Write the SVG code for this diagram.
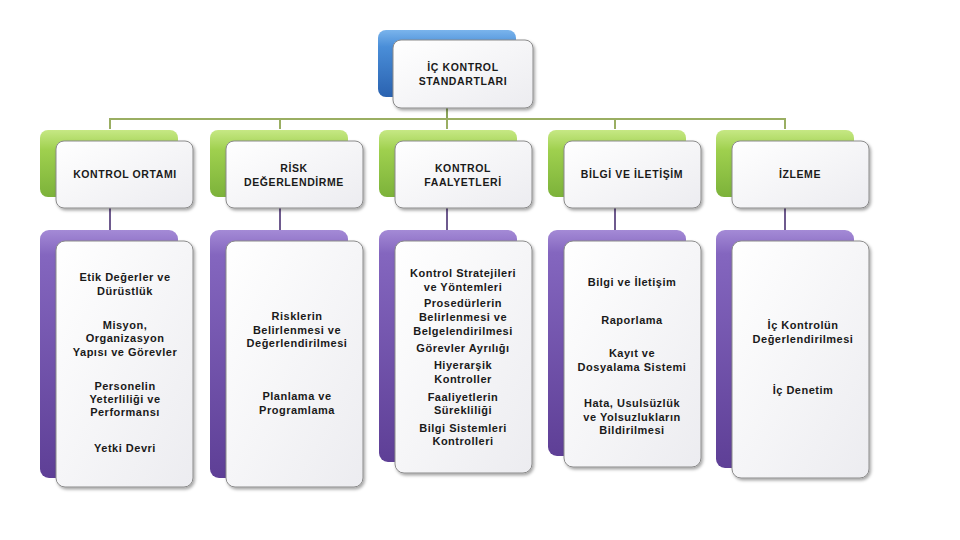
<svg xmlns="http://www.w3.org/2000/svg" width="960" height="540" viewBox="0 0 960 540">
<defs>
<linearGradient id="gGreen" x1="0" y1="0" x2="0" y2="1"><stop offset="0" stop-color="#c6e884"/><stop offset="0.3" stop-color="#9fd04e"/><stop offset="1" stop-color="#7cb23a"/></linearGradient>
<linearGradient id="gPurple" x1="0" y1="0" x2="0" y2="1"><stop offset="0" stop-color="#a48ad6"/><stop offset="0.1" stop-color="#8466bf"/><stop offset="1" stop-color="#5e3f96"/></linearGradient>
<linearGradient id="gBlue" x1="0" y1="0" x2="0" y2="1"><stop offset="0" stop-color="#7ab4ec"/><stop offset="0.25" stop-color="#4a8ed8"/><stop offset="1" stop-color="#2a62b0"/></linearGradient>
<linearGradient id="gWhite" x1="0" y1="0" x2="1" y2="1"><stop offset="0" stop-color="#ffffff"/><stop offset="1" stop-color="#ececf0"/></linearGradient>
<filter id="sh" x="-10%" y="-10%" width="130%" height="130%"><feDropShadow dx="1.5" dy="2" stdDeviation="1.8" flood-color="#000" flood-opacity="0.35"/></filter>
</defs>
<style>
.front{fill:url(#gWhite);stroke:#8a8a8a;stroke-width:1;filter:url(#sh)}
.green{fill:url(#gGreen)}
.purple{fill:url(#gPurple)}
.blue{fill:url(#gBlue)}
text{font-family:"Liberation Sans","DejaVu Sans",sans-serif;font-weight:bold;font-size:11px;letter-spacing:0.5px;fill:#1a1a1a;text-anchor:middle}
.h{font-size:10.5px;letter-spacing:0.6px}
.gl{stroke:#9aae62;stroke-width:2;fill:none}
.pl{stroke:#6e5a8e;stroke-width:2;fill:none}
.bl{stroke:#8aa35a;stroke-width:2;fill:none}
</style>
<rect width="960" height="540" fill="#ffffff"/>
<g id="connectors">
<path class="bl" d="M447 108 V119"/>
<path class="gl" d="M110 129 V119 H785 V129 M280 119 V129 M447 119 V129 M615 119 V129"/>
<path class="pl" d="M110 208 V230 M280 208 V230 M447 208 V230 M615 208 V230 M785 208 V230"/>
</g>
<g id="top">
<rect class="blue" x="378" y="30" width="138" height="67" rx="8"/>
<rect class="front" x="393" y="40" width="140" height="68" rx="8"/>
<text class="h" x="463" y="71">İÇ KONTROL</text>
<text class="h" x="463" y="85">STANDARTLARI</text>
</g>
<g id="n1">
<rect class="green" x="40" y="130" width="138" height="67" rx="8"/>
<rect class="front" x="56" y="141" width="137" height="67" rx="8"/>
<text class="h" x="125" y="178">KONTROL ORTAMI</text>
</g>
<g id="n2">
<rect class="green" x="210" y="130" width="138" height="67" rx="8"/>
<rect class="front" x="226" y="141" width="137" height="67" rx="8"/>
<text class="h" x="294" y="172">RİSK</text>
<text class="h" x="294" y="186">DEĞERLENDİRME</text>
</g>
<g id="n3">
<rect class="green" x="379" y="130" width="138" height="67" rx="8"/>
<rect class="front" x="395" y="141" width="137" height="67" rx="8"/>
<text class="h" x="463" y="172">KONTROL</text>
<text class="h" x="463" y="186">FAALYETLERİ</text>
</g>
<g id="n4">
<rect class="green" x="548" y="130" width="138" height="67" rx="8"/>
<rect class="front" x="564" y="141" width="137" height="67" rx="8"/>
<text class="h" x="632" y="178">BİLGİ VE İLETİŞİM</text>
</g>
<g id="n5">
<rect class="green" x="716" y="130" width="138" height="67" rx="8"/>
<rect class="front" x="732" y="141" width="137" height="67" rx="8"/>
<text class="h" x="800" y="178">İZLEME</text>
</g>
<g id="d1">
<rect class="purple" x="40" y="230" width="138" height="248" rx="9"/>
<rect class="front" x="56" y="241" width="137" height="246" rx="9"/>
<text x="125" y="281">Etik Değerler ve</text>
<text x="125" y="295">Dürüstlük</text>
<text x="125" y="329">Misyon,</text>
<text x="125" y="342">Organizasyon</text>
<text x="125" y="356">Yapısı ve Görevler</text>
<text x="125" y="390">Personelin</text>
<text x="125" y="403">Yeterliliği ve</text>
<text x="125" y="416">Performansı</text>
<text x="125" y="452">Yetki Devri</text>
</g>
<g id="d2">
<rect class="purple" x="210" y="230" width="138" height="248" rx="9"/>
<rect class="front" x="226" y="241" width="137" height="246" rx="9"/>
<text x="297" y="320">Risklerin</text>
<text x="297" y="334">Belirlenmesi ve</text>
<text x="297" y="347">Değerlendirilmesi</text>
<text x="297" y="400">Planlama ve</text>
<text x="297" y="414">Programlama</text>
</g>
<g id="d3">
<rect class="purple" x="379" y="230" width="138" height="232" rx="9"/>
<rect class="front" x="395" y="241" width="137" height="232" rx="9"/>
<text x="463" y="277">Kontrol Stratejileri</text>
<text x="463" y="291">ve Yöntemleri</text>
<text x="463" y="307">Prosedürlerin</text>
<text x="463" y="321">Belirlenmesi ve</text>
<text x="463" y="335">Belgelendirilmesi</text>
<text x="463" y="352">Görevler Ayrılığı</text>
<text x="463" y="369">Hiyerarşik</text>
<text x="463" y="383">Kontroller</text>
<text x="463" y="401">Faaliyetlerin</text>
<text x="463" y="414">Sürekliliği</text>
<text x="463" y="432">Bilgi Sistemleri</text>
<text x="463" y="445">Kontrolleri</text>
</g>
<g id="d4">
<rect class="purple" x="548" y="230" width="138" height="226" rx="9"/>
<rect class="front" x="564" y="241" width="137" height="226" rx="9"/>
<text x="632" y="286">Bilgi ve İletişim</text>
<text x="632" y="324">Raporlama</text>
<text x="632" y="357">Kayıt ve</text>
<text x="632" y="371">Dosyalama Sistemi</text>
<text x="632" y="407">Hata, Usulsüzlük</text>
<text x="632" y="421">ve Yolsuzlukların</text>
<text x="632" y="434">Bildirilmesi</text>
</g>
<g id="d5">
<rect class="purple" x="716" y="230" width="138" height="238" rx="9"/>
<rect class="front" x="732" y="241" width="137" height="237" rx="9"/>
<text x="803" y="329">İç Kontrolün</text>
<text x="803" y="343">Değerlendirilmesi</text>
<text x="803" y="394">İç Denetim</text>
</g>
</svg>
